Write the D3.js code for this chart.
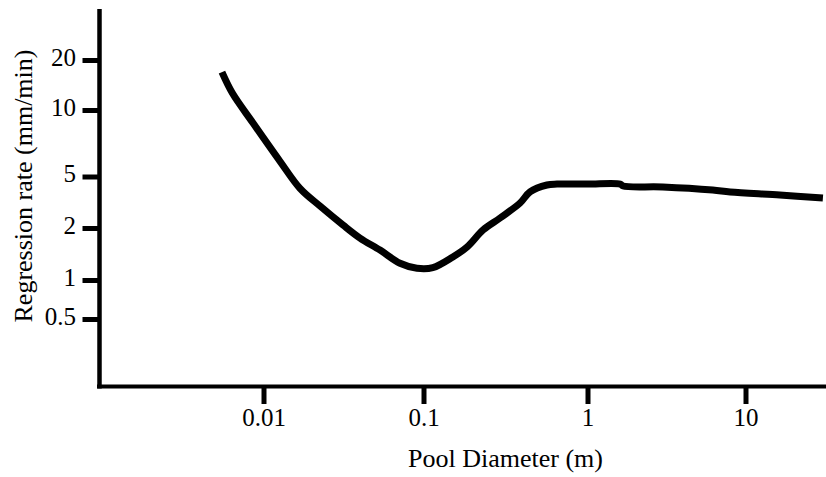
<!DOCTYPE html>
<html>
<head>
<meta charset="utf-8">
<script src="https://cdn.jsdelivr.net/npm/d3@7"></script>
<style>
  html, body { margin: 0; padding: 0; background: #fff; }
  svg { display: block; }
  text { font-family: "Liberation Serif", "Times New Roman", serif; fill: #000; }
</style>
</head>
<body>
<svg id="chart" width="826" height="477"></svg>
<script>
// Data
const diameters = [0.0055, 0.0064, 0.0086, 0.0127, 0.0169, 0.0226, 0.0314, 0.0401, 0.0535, 0.0713, 0.091, 0.114, 0.151, 0.184, 0.231, 0.293, 0.388, 0.446, 0.566, 0.652, 1.0, 1.61, 1.68, 3.0, 6.2, 8.0, 16.5, 30.9];
const rates =     [16.9,   12.6,   8.73,   5.85,   4.05,   2.95,   2.11,   1.75,   1.49,   1.25,   1.17,  1.18,  1.36,  1.55,  1.95,  2.39,  3.12,  3.80,  4.30,  4.37,  4.37, 4.37, 4.22, 4.15, 3.93, 3.80, 3.60, 3.41];
const xTicks = [0.01, 0.1, 1, 10];
const xTickLabels = ["0.01", "0.1", "1", "10"];
const yTicks = [0.5, 1, 2, 5, 10, 20];
const yTickLabels = ["0.5", "1", "2", "5", "10", "20"];
const xTitle = "Pool Diameter (m)";
const yTitle = "Regression rate (mm/min)";

const svg = d3.select("#chart");

// Scales (the original axis spacing is irregular, so use piecewise log scales)
const x = d3.scaleLog().domain(xTicks).range([263.5, 423.5, 587.5, 745.5]);
const y = d3.scaleLog().domain(yTicks).range([319, 280, 228, 176.5, 110, 60]);

const axisX0 = 99.5, axisY0 = 386.5;

// Axis lines
svg.append("line").attr("x1", axisX0).attr("x2", axisX0).attr("y1", 9).attr("y2", 388.5)
  .attr("stroke", "#000").attr("stroke-width", 4.5);
svg.append("line").attr("x1", 97).attr("x2", 826).attr("y1", axisY0).attr("y2", axisY0)
  .attr("stroke", "#000").attr("stroke-width", 4);

// Y axis
const yAxis = d3.axisLeft(y).tickValues(yTicks).tickSize(17).tickPadding(6.5)
  .tickFormat((d, i) => yTickLabels[i]);
const gy = svg.append("g").attr("transform", `translate(${axisX0},0)`).call(yAxis);
gy.select(".domain").remove();
gy.selectAll(".tick line").attr("stroke", "#000").attr("stroke-width", 5);
gy.selectAll(".tick text").attr("font-size", 25).attr("dy", "0.2em")
  .style("font-family", "'Liberation Serif', 'Times New Roman', serif");

// X axis
const xAxis = d3.axisBottom(x).tickValues(xTicks).tickSize(17.5).tickPadding(4.5)
  .tickFormat((d, i) => xTickLabels[i]);
const gx = svg.append("g").attr("transform", `translate(0,${axisY0})`).call(xAxis);
gx.select(".domain").remove();
gx.selectAll(".tick line").attr("stroke", "#000").attr("stroke-width", 5);
gx.selectAll(".tick text").attr("font-size", 25)
  .style("font-family", "'Liberation Serif', 'Times New Roman', serif");

// Titles
svg.append("text").attr("x", 505.5).attr("y", 467).attr("text-anchor", "middle")
  .attr("font-size", 26).text(xTitle);
svg.append("text").attr("transform", "translate(32,186) rotate(-90)").attr("text-anchor", "middle")
  .attr("font-size", 26).text(yTitle);

// Curve
const data = diameters.map((d, i) => ({ d, r: rates[i] }));
const line = d3.line().x(p => x(p.d)).y(p => y(p.r)).curve(d3.curveCatmullRom.alpha(0.5));
svg.append("path").datum(data).attr("d", line)
  .attr("fill", "none").attr("stroke", "#000").attr("stroke-width", 7)
  .attr("stroke-linejoin", "round").attr("stroke-linecap", "butt");
</script>
</body>
</html>
